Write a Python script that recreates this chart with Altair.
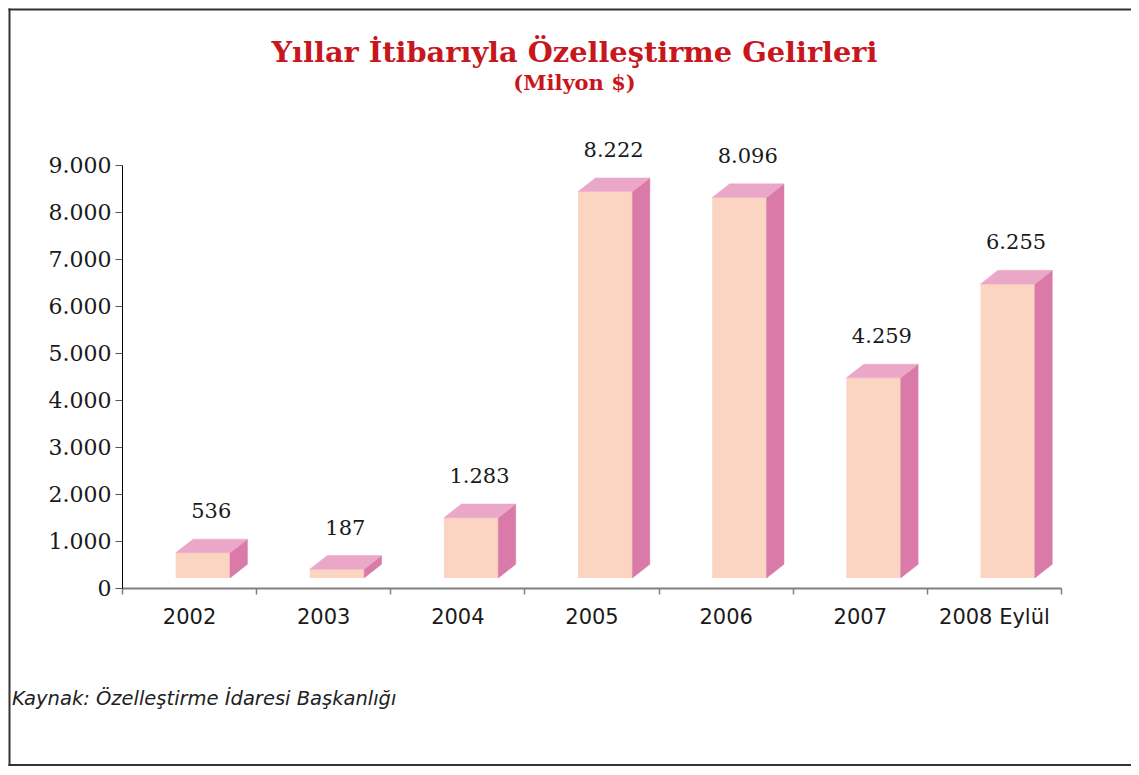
import altair as alt
import pandas as pd

# ---- data ----
categories = ["2002", "2003", "2004", "2005", "2006", "2007", "2008 Eylül"]
values = [536, 187, 1283, 8222, 8096, 4259, 6255]
y_ticks = [0, 1000, 2000, 3000, 4000, 5000, 6000, 7000, 8000, 9000]

title_text = "Yıllar İtibarıyla Özelleştirme Gelirleri"
subtitle_text = "(Milyon $)"
source_text = "Kaynak: Özelleştirme İdaresi Başkanlığı"

# ---- style (3D box look, in scale units) ----
XL, XR, DX = 0.40, 0.805, 0.13      # front face left/right inside a band, depth in x
BASE, DY = 213, 290                 # floor lift and depth in y (value units)
LABEL_X = 0.665
FRONT, TOP, SIDE = "#FCD4C2", "#EAA7C7", "#DA7AA8"
RED = "#C8161D"
W, H = 939, 423

n = len(categories)
fmt = lambda v: f"{v:,}".replace(",", ".")

front_rows, side_rows, top_rows, lab_rows = [], [], [], []
for i, (c, v) in enumerate(zip(categories, values)):
    T = v + BASE
    front_rows.append({"cat": c, "xa": i + XL, "xb": i + XR, "lo": BASE, "hi": T})
    side_rows += [
        {"cat": c, "x": i + XR, "lo": BASE, "hi": T},
        {"cat": c, "x": i + XR + DX, "lo": BASE + DY, "hi": T + DY},
    ]
    top_rows += [
        {"cat": c, "x": i + XL, "lo": T, "hi": T},
        {"cat": c, "x": i + XL + DX, "lo": T, "hi": T + DY},
        {"cat": c, "x": i + XR, "lo": T, "hi": T + DY},
        {"cat": c, "x": i + XR + DX, "lo": T + DY, "hi": T + DY},
    ]
    lab_rows.append({"cat": c, "x": i + LABEL_X, "y": T + DY, "label": fmt(v)})

front_df = pd.DataFrame(front_rows)
side_df = pd.DataFrame(side_rows)
top_df = pd.DataFrame(top_rows)
lab_df = pd.DataFrame(lab_rows)

cat_array = "[" + ",".join(f"'{c}'" for c in categories) + "]"

x_scale = alt.Scale(domain=[0, n], nice=False, zero=False)
y_scale = alt.Scale(domain=[0, 9000], nice=False)

x_axis = alt.Axis(
    values=list(range(n + 1)),
    labelExpr=f"datum.value < {n} ? {cat_array}[datum.value] : ''",
    labelOffset=W / n / 2,
    labelFont="DejaVu Sans", labelFontSize=21, labelColor="#1a1a1a",
    labelPadding=12, labelOverlap=False, labelFlush=False, labelBound=False,
    tickSize=6, tickColor="#808080", tickWidth=1.5,
    domainColor="#808080", domainWidth=2, grid=False,
    title=source_text, titleFont="DejaVu Sans", titleFontStyle="italic",
    titleFontWeight="normal", titleFontSize=19.5, titleColor="#222222",
    titleAnchor="start", titleAlign="left", titleBaseline="alphabetic",
    titleX=-110.5, titleY=116,
)
y_axis = alt.Axis(
    values=y_ticks,
    labelExpr="replace(format(datum.value, ','), ',', '.')",
    labelFont="DejaVu Serif", labelFontSize=22, labelColor="#1a1a1a",
    labelPadding=4, tickSize=7, tickColor="#555555",
    domainColor="#000000", domainWidth=1, grid=False, title=None,
)

# page frame drawn as thin filled strips (left, top, bottom; right edge is off the page)
one = pd.DataFrame({"k": [0]})
FRAME = "#333333"
frame_top = alt.Chart(one).mark_rect(color=FRAME, strokeWidth=0).encode(
    x=alt.value(-113.5), x2=alt.value(1017), y=alt.value(-156.5), y2=alt.value(-154.5))
frame_bottom = alt.Chart(one).mark_rect(color=FRAME, strokeWidth=0).encode(
    x=alt.value(-113.5), x2=alt.value(1017), y=alt.value(599), y2=alt.value(601))
frame_left = alt.Chart(one).mark_rect(color=FRAME, strokeWidth=0).encode(
    x=alt.value(-113.5), x2=alt.value(-111.5), y=alt.value(-156.5), y2=alt.value(601))

front = alt.Chart(front_df).mark_rect(color=FRONT).encode(
    x=alt.X("xa:Q", scale=x_scale, axis=x_axis),
    x2="xb:Q",
    y=alt.Y("hi:Q", scale=y_scale, axis=y_axis, stack=None),
    y2="lo:Q",
)

side = alt.Chart(side_df).mark_area(color=SIDE, stroke=SIDE, strokeWidth=0.5).encode(
    x=alt.X("x:Q", scale=x_scale, axis=x_axis),
    y=alt.Y("hi:Q", scale=y_scale, axis=y_axis, stack=None),
    y2="lo:Q",
    detail="cat:N",
)

top = alt.Chart(top_df).mark_area(color=TOP, stroke=TOP, strokeWidth=0.5).encode(
    x=alt.X("x:Q", scale=x_scale, axis=x_axis),
    y=alt.Y("hi:Q", scale=y_scale, axis=y_axis, stack=None),
    y2="lo:Q",
    detail="cat:N",
)

labels = alt.Chart(lab_df).mark_text(
    font="DejaVu Serif", fontSize=21, color="#1a1a1a",
    align="center", baseline="alphabetic", dy=-21,
).encode(
    x=alt.X("x:Q", scale=x_scale, axis=x_axis),
    y=alt.Y("y:Q", scale=y_scale, axis=y_axis, stack=None),
    text="label:N",
)

chart = alt.layer(frame_top, frame_bottom, frame_left, front, side, top, labels).properties(
    width=W, height=H,
    background="white",
    autosize=alt.AutoSizeParams(type="none"),
    padding={"left": 114, "top": 157, "right": 70, "bottom": 179},
    title=alt.TitleParams(
        text=title_text, subtitle=subtitle_text,
        font="DejaVu Serif", fontSize=28.8, fontWeight="bold", color=RED,
        subtitleFont="DejaVu Serif", subtitleFontSize=21,
        subtitleFontWeight="bold", subtitleColor=RED,
        anchor="middle", frame="group", dx=-17, offset=-85, subtitlePadding=5,
    ),
).configure_view(stroke=None)

chart.save("out.html", embed_options={"renderer": "svg", "actions": False})
